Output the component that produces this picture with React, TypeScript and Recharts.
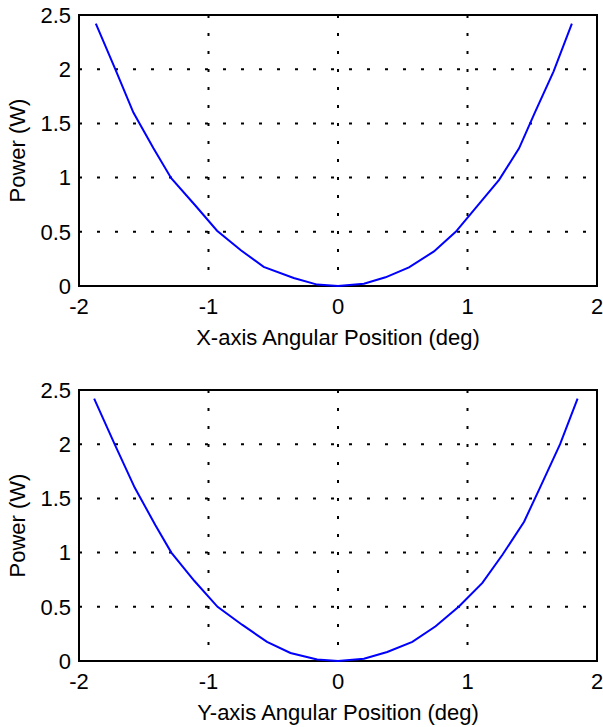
import React from "react";
import {
  LineChart,
  Line,
  XAxis,
  YAxis,
  CartesianGrid,
  ReferenceArea,
} from "recharts";

// X-axis scan (top plot)
const xScanAngle = [
  -1.87, -1.72, -1.58, -1.425, -1.288, -1.1, -0.934, -0.75, -0.574, -0.342, -0.161, 0,
  0.2, 0.367, 0.548, 0.741, 0.909, 1.07, 1.244, 1.398, 1.52, 1.665, 1.806,
];
const xScanPower = [
  2.42, 2.0, 1.6, 1.27, 0.995, 0.74, 0.51, 0.33, 0.176, 0.074, 0.013, 0,
  0.02, 0.08, 0.172, 0.319, 0.5, 0.73, 0.979, 1.27, 1.6, 1.98, 2.42,
];

// Y-axis scan (bottom plot)
const yScanAngle = [
  -1.883, -1.725, -1.57, -1.411, -1.287, -1.11, -0.93, -0.741, -0.548, -0.367, -0.161, 0,
  0.2, 0.38, 0.574, 0.754, 0.934, 1.115, 1.27, 1.437, 1.56, 1.715, 1.85,
];
const yScanPower = [
  2.42, 2.0, 1.6, 1.255, 1.0, 0.74, 0.5, 0.335, 0.176, 0.074, 0.013, 0,
  0.02, 0.083, 0.176, 0.32, 0.503, 0.72, 0.98, 1.285, 1.6, 2.0, 2.42,
];

const angleTicks = [-2, -1, 0, 1, 2];
const powerTicks = [0, 0.5, 1, 1.5, 2, 2.5];

const font = "'Liberation Sans', Arial, sans-serif";
const tickStyle = { fontSize: 22, fill: "#000", fontFamily: font };

interface PanelProps {
  angle: number[];
  power: number[];
  xLabel: string;
}

const PowerPanel: React.FC<PanelProps> = ({ angle, power, xLabel }) => {
  const data = angle.map((a, i) => ({ angle: a, power: power[i] }));
  return (
    <LineChart
      width={603}
      height={352}
      data={data}
      margin={{ top: 15, right: 6, bottom: 0, left: 0 }}
    >
      <CartesianGrid
        stroke="#000"
        strokeWidth={2}
        strokeDasharray="3 15"
      />
      <XAxis
        type="number"
        dataKey="angle"
        domain={[-2, 2]}
        ticks={angleTicks}
        height={66}
        axisLine={false}
        tickLine={false}
        tickSize={0}
        tickMargin={12}
        tick={tickStyle}
        label={{
          value: xLabel,
          position: "insideBottom",
          offset: 7,
          style: { fontSize: 22, fill: "#000", fontFamily: font },
        }}
      />
      <YAxis
        type="number"
        domain={[0, 2.5]}
        ticks={powerTicks}
        width={79}
        axisLine={false}
        tickLine={false}
        tickSize={0}
        tickMargin={8}
        tick={tickStyle}
        label={{
          value: "Power (W)",
          angle: -90,
          position: "insideLeft",
          offset: 17,
          style: { fontSize: 22, fill: "#000", fontFamily: font, textAnchor: "middle" },
        }}
      />
      <Line
        type="linear"
        dataKey="power"
        stroke="#0000ff"
        strokeWidth={2}
        dot={false}
        isAnimationActive={false}
      />
      <ReferenceArea
        x1={-2}
        x2={2}
        y1={0}
        y2={2.5}
        fill="none"
        fillOpacity={0}
        stroke="#000"
        strokeWidth={2}
      />
    </LineChart>
  );
};

export default function App() {
  return (
    <div
      style={{
        position: "absolute",
        left: 0,
        top: 0,
        width: 603,
        height: 727,
        background: "#fff",
        fontFamily: font,
      }}
    >
      <div style={{ position: "absolute", left: 0, top: 0 }}>
        <PowerPanel angle={xScanAngle} power={xScanPower} xLabel="X-axis Angular Position (deg)" />
      </div>
      <div style={{ position: "absolute", left: 0, top: 375 }}>
        <PowerPanel angle={yScanAngle} power={yScanPower} xLabel="Y-axis Angular Position (deg)" />
      </div>
    </div>
  );
}
